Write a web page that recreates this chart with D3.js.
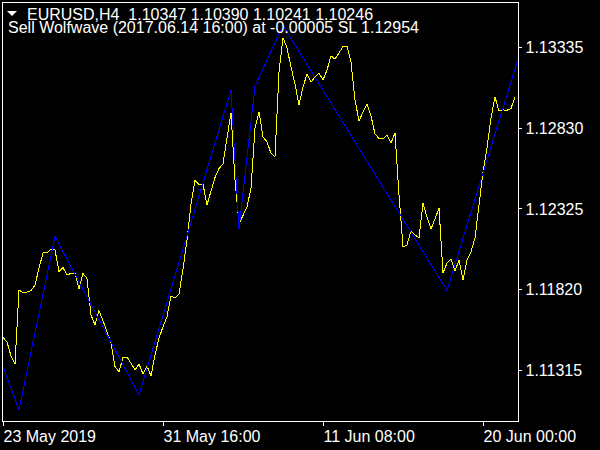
<!DOCTYPE html>
<html>
<head>
<meta charset="utf-8">
<script src="https://cdn.jsdelivr.net/npm/d3@7/dist/d3.min.js"></script>
<style>
  html, body { margin: 0; padding: 0; background: #000; }
  svg { display: block; }
  text { font-family: "Liberation Sans", Arial, sans-serif; font-size: 16px; fill: #fff; white-space: pre; }
</style>
</head>
<body>
<svg id="chart" width="600" height="450"></svg>
<script>
// ---- data ----
const symbolTitle = "EURUSD,H4  1.10347 1.10390 1.10241 1.10246";
const signalTitle = "Sell Wolfwave (2017.06.14 16:00) at -0.00005 SL 1.12954";

// H4 closes, one per bar, from 23 May 2019 00:00
const closes = [
  1.11518, 1.11490, 1.11403, 1.11353, 1.11815, 1.11799, 1.11802, 1.11812, 1.11846, 1.11952,
  1.12046, 1.12049, 1.12068, 1.12065, 1.11930, 1.11955, 1.11909, 1.11918, 1.11921, 1.11824,
  1.11918, 1.11887, 1.11659, 1.11596, 1.11686, 1.11623, 1.11553, 1.11484, 1.11336, 1.11304,
  1.11394, 1.11396, 1.11357, 1.11315, 1.11353, 1.11290, 1.11340, 1.11278, 1.11409, 1.11513,
  1.11586, 1.11648, 1.11777, 1.11765, 1.11790, 1.11946, 1.12127, 1.12352, 1.12500, 1.12474,
  1.12476, 1.12346, 1.12433, 1.12518, 1.12574, 1.12602, 1.12765, 1.12921, 1.12502, 1.12230,
  1.12280, 1.12333, 1.12452, 1.12827, 1.12929, 1.12771, 1.12741, 1.12669, 1.12648, 1.13177,
  1.13392, 1.13327, 1.13208, 1.13102, 1.12971, 1.13083, 1.13164, 1.13114, 1.13146, 1.13171,
  1.13127, 1.13189, 1.13277, 1.13258, 1.13296, 1.13336, 1.13338, 1.13239, 1.13002, 1.12871,
  1.12927, 1.12977, 1.12902, 1.12790, 1.12761, 1.12758, 1.12783, 1.12733, 1.12796, 1.12408,
  1.12084, 1.12096, 1.12184, 1.12159, 1.12140, 1.12358, 1.12271, 1.12196, 1.12259, 1.12327,
  1.11921, 1.11984, 1.12009, 1.11934, 1.12002, 1.11877, 1.12002, 1.12052, 1.12140, 1.12346,
  1.12552, 1.12702, 1.12890, 1.13021, 1.12933, 1.12940, 1.12938, 1.12949, 1.13021
];

// zigzag / wolfwave line vertices: bar index and price
const zigzagBars   = [0, 4, 13, 34, 57, 59, 63, 70, 111, 129];
const zigzagPrices = [1.11336, 1.11065, 1.12149, 1.11159, 1.13064, 1.12196, 1.13089, 1.13467, 1.11812, 1.13278];

// axis ticks
const priceTicks = [1.11315, 1.11820, 1.12325, 1.12830, 1.13335];
const timeTickBars = [0, 40, 80, 120];
const timeTickLabels = ["23 May 2019", "31 May 16:00", "11 Jun 08:00", "20 Jun 00:00"];

// ---- layout ----
const svg = d3.select("#chart");
const W = 600, H = 450;
const plot = { left: 2.5, top: 2.5, right: 518.5, bottom: 421.5 };

svg.append("rect").attr("width", W).attr("height", H).attr("fill", "#000");

const x = d3.scaleLinear().domain([0, closes.length - 1]).range([3, 515]);
const y = d3.scaleLinear().domain([1.11315, 1.13335]).range([370, 46.7]);

svg.append("clipPath").attr("id", "plotclip")
  .append("rect")
  .attr("x", plot.left + 0.5).attr("y", plot.top + 0.5)
  .attr("width", plot.right - plot.left - 1).attr("height", plot.bottom - plot.top - 1);

const g = svg.append("g").attr("clip-path", "url(#plotclip)");

const closeLine = d3.line().x((d, i) => x(i)).y(d => y(d));
g.append("path")
  .datum(closes)
  .attr("d", closeLine)
  .attr("fill", "none")
  .attr("stroke", "#ffff00")
  .attr("stroke-width", 1)
  .attr("shape-rendering", "crispEdges");

const zz = zigzagBars.map((b, i) => [b, zigzagPrices[i]]);
const zzLine = d3.line().x(d => x(d[0])).y(d => y(d[1]));
g.append("path")
  .datum(zz)
  .attr("d", zzLine)
  .attr("fill", "none")
  .attr("stroke", "#0000ff")
  .attr("stroke-width", 1)
  .attr("shape-rendering", "crispEdges");

// frame
svg.append("rect")
  .attr("x", plot.left).attr("y", plot.top)
  .attr("width", plot.right - plot.left).attr("height", plot.bottom - plot.top)
  .attr("fill", "none").attr("stroke", "#fff").attr("stroke-width", 1);

// y axis (right)
const yAxis = d3.axisRight(y)
  .tickValues(priceTicks)
  .tickFormat(d3.format(".5f"))
  .tickSize(3)
  .tickPadding(5);
const ya = svg.append("g").attr("transform", `translate(${plot.right},0)`).call(yAxis);
ya.select(".domain").remove();
ya.selectAll(".tick line").attr("stroke", "#fff").attr("shape-rendering", "crispEdges");
ya.selectAll(".tick text")
  .attr("fill", "#fff")
  .attr("x", 7)
  .attr("dy", "0.36em")
  .style("font-family", '"Liberation Sans", Arial, sans-serif')
  .style("font-size", "16px");

// x axis (bottom)
const xAxis = d3.axisBottom(x)
  .tickValues(timeTickBars)
  .tickFormat((d, i) => timeTickLabels[i])
  .tickSize(4);
const xa = svg.append("g").attr("transform", `translate(0,${plot.bottom})`).call(xAxis);
xa.select(".domain").remove();
xa.selectAll(".tick line").attr("stroke", "#fff").attr("shape-rendering", "crispEdges");
xa.selectAll(".tick text")
  .attr("fill", "#fff")
  .attr("text-anchor", "start")
  .attr("x", 0)
  .attr("y", 20.5)
  .attr("dy", 0)
  .style("font-family", '"Liberation Sans", Arial, sans-serif')
  .style("font-size", "16px");

// header
svg.append("path")
  .attr("d", "M7,11 L17,11 L12,16 Z")
  .attr("fill", "#fff");
svg.append("text").attr("x", 27).attr("y", 19.5).attr("xml:space", "preserve").text(symbolTitle);
svg.append("text").attr("x", 8).attr("y", 33).text(signalTitle);
</script>
</body>
</html>
